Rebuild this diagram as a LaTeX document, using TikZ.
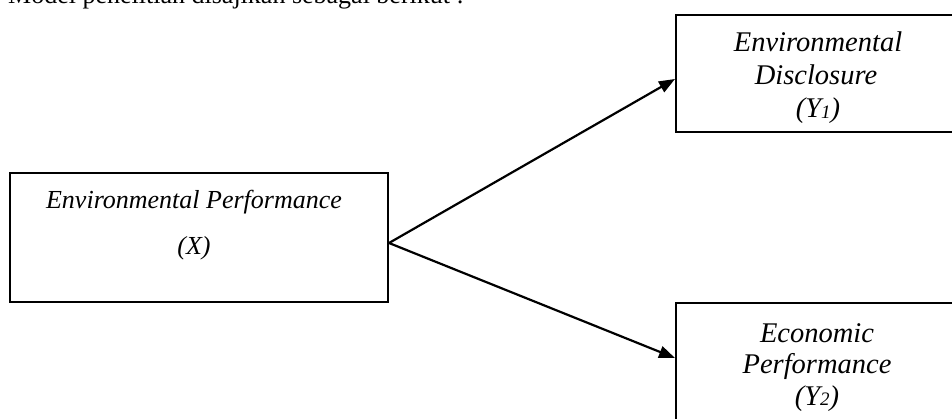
\documentclass[tikz,border=0pt]{standalone}
\usepackage{fontspec}
\setmainfont{Liberation Serif}
\usetikzlibrary{arrows.meta}
\tikzset{
  box/.style={draw, line width=2pt, rectangle, inner sep=0pt},
  lbl/.style={anchor=base, inner sep=0pt, font=\fontsize{28.5}{30}\selectfont\itshape},
  lblL/.style={anchor=base, inner sep=0pt, font=\fontsize{26}{30}\selectfont\itshape},
  conn/.style={line width=2.2pt, -{Triangle[length=16pt,width=12pt]}},
}
\newcommand{\smallsub}[1]{\raisebox{-0.5pt}{\fontsize{19}{19}\selectfont #1}}
\begin{document}
\begin{tikzpicture}[x=1pt,y=-1pt]
\useasboundingbox (0,0) rectangle (952,419);
\clip (0,0) rectangle (952,419);
% caption cut at top
\node[anchor=base west, inner sep=0pt, font=\fontsize{26}{30}\selectfont] (cap) at (8,4) {Model penelitian disajikan sebagai berikut :};
% boxes
\node[box, minimum width=378pt, minimum height=129pt] (lb) at (199,237.5) {};
\node[box, minimum width=282pt, minimum height=117pt] (tr) at (817,73.5) {};
\node[box, minimum width=282pt, minimum height=118pt] (br) at (817,362) {};
% texts
\node[lblL] (lt1) at (194,209) {Environmental Performance};
\node[lblL] (lt2) at (194,255) {(X)};
\node[lbl] (tt1) at (818,52) {Environmental};
\node[lbl] (tt2) at (816,85) {Disclosure};
\node[lbl] (tt3) at (818,118) {(Y\smallsub{1})};
\node[lbl] (bt1) at (817,342) {Economic};
\node[lbl] (bt2) at (817,373) {Performance};
\node[lbl] (bt3) at (817,405) {(Y\smallsub{2})};
% connectors
\draw[conn] ([yshift=-5.5pt]lb.east) -- ([yshift=-5.5pt]tr.west);
\draw[conn] ([yshift=-5.5pt]lb.east) -- ([yshift=4pt]br.west);
\end{tikzpicture}
\end{document}
